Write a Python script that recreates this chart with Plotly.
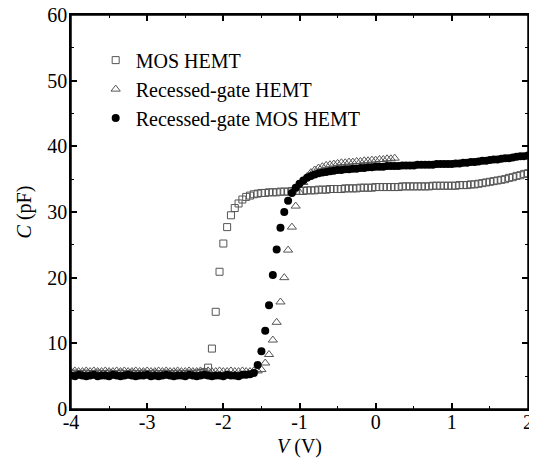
import plotly.graph_objects as go

# Gate voltage sweep (V)
V = [-4.00, -3.95, -3.90, -3.85, -3.80, -3.75, -3.70, -3.65, -3.60, -3.55,
     -3.50, -3.45, -3.40, -3.35, -3.30, -3.25, -3.20, -3.15, -3.10, -3.05,
     -3.00, -2.95, -2.90, -2.85, -2.80, -2.75, -2.70, -2.65, -2.60, -2.55,
     -2.50, -2.45, -2.40, -2.35, -2.30, -2.25, -2.20, -2.15, -2.10, -2.05,
     -2.00, -1.95, -1.90, -1.85, -1.80, -1.75, -1.70, -1.65, -1.60, -1.55,
     -1.50, -1.45, -1.40, -1.35, -1.30, -1.25, -1.20, -1.15, -1.10, -1.05,
     -1.00, -0.95, -0.90, -0.85, -0.80, -0.75, -0.70, -0.65, -0.60, -0.55,
     -0.50, -0.45, -0.40, -0.35, -0.30, -0.25, -0.20, -0.15, -0.10, -0.05,
     0.00, 0.05, 0.10, 0.15, 0.20, 0.25, 0.30, 0.35, 0.40, 0.45,
     0.50, 0.55, 0.60, 0.65, 0.70, 0.75, 0.80, 0.85, 0.90, 0.95,
     1.00, 1.05, 1.10, 1.15, 1.20, 1.25, 1.30, 1.35, 1.40, 1.45,
     1.50, 1.55, 1.60, 1.65, 1.70, 1.75, 1.80, 1.85, 1.90, 1.95, 2.00]

# MOS HEMT (open squares), C in pF
C_mos = [5.3, 5.4, 5.3, 5.3, 5.4, 5.3, 5.3, 5.4, 5.3, 5.3,
         5.4, 5.3, 5.3, 5.4, 5.3, 5.3, 5.4, 5.3, 5.3, 5.4,
         5.3, 5.3, 5.4, 5.3, 5.3, 5.4, 5.3, 5.3, 5.4, 5.3,
         5.3, 5.4, 5.3, 5.4, 5.5, 5.6, 6.3, 9.2, 14.8, 20.9,
         25.2, 27.7, 29.5, 30.6, 31.3, 31.9, 32.3, 32.5, 32.7, 32.8,
         32.9, 32.9, 33.0, 33.0, 33.0, 33.1, 33.1, 33.1, 33.2, 33.2,
         33.2, 33.2, 33.3, 33.3, 33.3, 33.4, 33.4, 33.4, 33.5, 33.5,
         33.5, 33.5, 33.6, 33.6, 33.6, 33.6, 33.7, 33.7, 33.7, 33.7,
         33.8, 33.8, 33.8, 33.8, 33.8, 33.8, 33.8, 33.9, 33.9, 33.9,
         33.9, 33.9, 33.9, 33.9, 33.9, 34.0, 34.0, 34.0, 34.0, 34.0,
         34.0, 34.0, 34.1, 34.1, 34.1, 34.2, 34.2, 34.3, 34.4, 34.5,
         34.6, 34.7, 34.8, 34.9, 35.0, 35.2, 35.3, 35.5, 35.6, 35.8, 35.9]

# Recessed-gate HEMT (open triangles), measured up to 0.25 V
C_rec = [5.7, 5.8, 5.7, 5.7, 5.8, 5.7, 5.8, 5.7, 5.7, 5.8,
         5.7, 5.7, 5.8, 5.7, 5.8, 5.7, 5.7, 5.8, 5.7, 5.7,
         5.8, 5.7, 5.7, 5.8, 5.7, 5.8, 5.7, 5.7, 5.8, 5.7,
         5.7, 5.8, 5.7, 5.7, 5.8, 5.7, 5.8, 5.7, 5.7, 5.8,
         5.7, 5.7, 5.8, 5.7, 5.7, 5.8, 5.7, 5.7, 5.8, 5.8,
         6.0, 7.0, 8.3, 10.5, 13.2, 16.3, 20.0, 24.2, 27.7, 30.9,
         33.0, 34.5, 35.4, 36.0, 36.4, 36.7, 36.9, 37.1, 37.2, 37.3,
         37.4, 37.5, 37.5, 37.6, 37.6, 37.7, 37.7, 37.8, 37.8, 37.9,
         37.9, 38.0, 38.0, 38.1, 38.1, 38.2]

# Recessed-gate MOS HEMT (filled circles)
C_recmos = [5.1, 5.0, 5.2, 5.1, 5.0, 5.1, 5.2, 5.0, 5.1, 5.1,
            5.0, 5.2, 5.1, 5.0, 5.1, 5.2, 5.1, 5.0, 5.1, 5.1,
            5.2, 5.0, 5.1, 5.0, 5.1, 5.2, 5.1, 5.0, 5.1, 5.1,
            5.0, 5.2, 5.1, 5.0, 5.1, 5.2, 5.1, 5.0, 5.1, 5.1,
            5.0, 5.2, 5.1, 5.1, 5.0, 5.2, 5.2, 5.3, 5.5, 6.7,
            8.8, 11.9, 15.8, 20.4, 24.3, 27.6, 30.0, 31.7, 32.9, 33.7,
            34.3, 34.8, 35.2, 35.5, 35.7, 35.9, 36.0, 36.1, 36.2, 36.3,
            36.4, 36.4, 36.5, 36.5, 36.6, 36.6, 36.7, 36.7, 36.8, 36.8,
            36.9, 36.9, 36.9, 37.0, 37.0, 37.0, 37.0, 37.1, 37.1, 37.1,
            37.1, 37.2, 37.2, 37.2, 37.2, 37.2, 37.3, 37.3, 37.3, 37.3,
            37.3, 37.4, 37.4, 37.5, 37.5, 37.6, 37.6, 37.7, 37.8, 37.8,
            37.9, 38.0, 38.0, 38.1, 38.2, 38.2, 38.3, 38.4, 38.5, 38.5, 38.6]

NAMES = ["MOS HEMT", "Recessed-gate HEMT", "Recessed-gate MOS HEMT"]

X_TICKS = [-4, -3, -2, -1, 0, 1, 2]
X_TICK_TEXT = ["-4", "-3", "-2", "-1", "0", "1", "2"]
Y_TICKS = [0, 10, 20, 30, 40, 50, 60]
Y_TICK_TEXT = ["0", "10", "20", "30", "40", "50", "60"]

FONT = "Liberation Serif, Times New Roman, serif"

fig = go.Figure()
fig.add_trace(go.Scatter(
    x=V, y=C_mos, mode="markers", name=NAMES[0],
    marker=dict(symbol="square-open", size=7, color="#555555",
                line=dict(width=1, color="#555555"))))
fig.add_trace(go.Scatter(
    x=V[:len(C_rec)], y=C_rec, mode="markers", name=NAMES[1],
    marker=dict(symbol="triangle-up-open", size=8, color="#555555",
                line=dict(width=1, color="#555555"))))
fig.add_trace(go.Scatter(
    x=V, y=C_recmos, mode="markers", name=NAMES[2],
    marker=dict(symbol="circle", size=8, color="black")))

axis_common = dict(
    showline=True, linecolor="black", linewidth=1.5, mirror="ticks",
    ticks="inside", ticklen=6, tickwidth=1.5, tickcolor="black",
    showgrid=False, zeroline=False, automargin=False,
    ticklabeloverflow="allow",
    tickfont=dict(family=FONT, size=20, color="black"),
)

fig.update_xaxes(
    range=[-4, 2], tickmode="array", tickvals=X_TICKS, ticktext=X_TICK_TEXT,
    ticklabelstandoff=-6,
    minor=dict(dtick=0.5, tick0=0, ticks="inside", ticklen=3, tickwidth=1.2, tickcolor="black"),
    title=dict(text="<i>V</i> (V)", font=dict(family=FONT, size=20, color="black"), standoff=14),
    **axis_common)
fig.update_yaxes(
    range=[0, 60], tickmode="array", tickvals=Y_TICKS, ticktext=Y_TICK_TEXT,
    ticklabelstandoff=-2,
    minor=dict(dtick=5, tick0=0, ticks="inside", ticklen=3, tickwidth=1.2, tickcolor="black"),
    title=dict(text="<i>C</i> (pF)", font=dict(family=FONT, size=20, color="black"), standoff=10),
    **axis_common)

# plot frame
fig.add_shape(type="rect", xref="paper", yref="paper", x0=0, x1=1, y0=0, y1=1,
              line=dict(color="black", width=1.5), layer="above")

# the page body adds 8 px on every side; the figure is sized to fit the window without scrollbars
fig.update_layout(
    width=521, height=450,
    margin=dict(l=63, r=1, t=7, b=49),
    paper_bgcolor="white", plot_bgcolor="white",
    font=dict(family=FONT, size=20, color="black"),
    showlegend=True,
    legend=dict(x=0.054, y=0.935, xanchor="left", yanchor="top",
                bgcolor="rgba(0,0,0,0)", borderwidth=0,
                font=dict(family=FONT, size=20, color="black"),
                tracegroupgap=0),
)

fig.write_html("out.html")
